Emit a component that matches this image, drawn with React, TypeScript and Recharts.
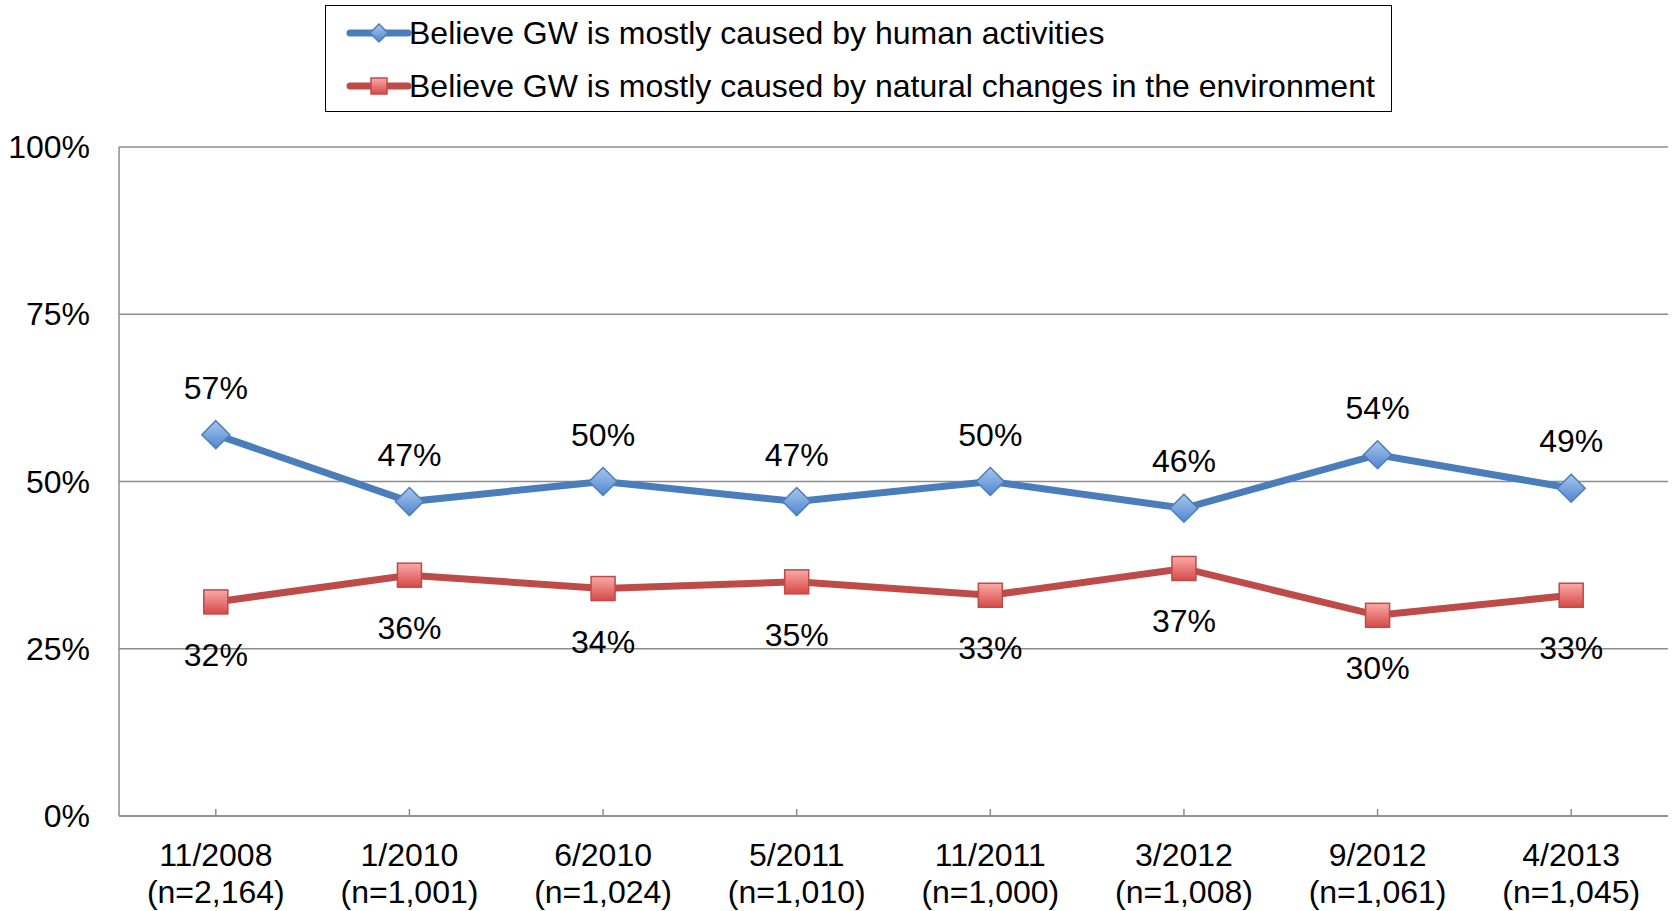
import { LineChart, Line, XAxis, YAxis, CartesianGrid } from 'recharts'

const categories = ['11/2008', '1/2010', '6/2010', '5/2011', '11/2011', '3/2012', '9/2012', '4/2013']
const sampleSizes = ['(n=2,164)', '(n=1,001)', '(n=1,024)', '(n=1,010)', '(n=1,000)', '(n=1,008)', '(n=1,061)', '(n=1,045)']
const humanValues = [57, 47, 50, 47, 50, 46, 54, 49]
const naturalValues = [32, 36, 34, 35, 33, 37, 30, 33]
const yTicks = [0, 25, 50, 75, 100]

const HUMAN = 'Believe GW is mostly caused by human activities'
const NATURAL = 'Believe GW is mostly caused by natural changes in the environment'

const FONT = '"Liberation Sans", Arial, sans-serif'
const FS = 32
const BLUE = '#4A7EBB'
const RED = '#BE4B48'
const GRID = '#8c8c8c'

const data = categories.map((c, i) => ({
  cat: c,
  human: humanValues[i],
  natural: naturalValues[i]
}))

const Diamond = ({ cx, cy, size = 14 }: any) => (
  <g>
    <defs>
      <linearGradient id="blueFill" x1="0" y1="0" x2="0" y2="1">
        <stop offset="0%" stopColor="#a9c6ee" />
        <stop offset="100%" stopColor="#4f86cf" />
      </linearGradient>
    </defs>
    <polygon
      points={`${cx},${cy - size} ${cx + size},${cy} ${cx},${cy + size} ${cx - size},${cy}`}
      fill="url(#blueFill)"
      stroke={BLUE}
      strokeWidth={1.5}
    />
  </g>
)

const Square = ({ cx, cy, size = 12 }: any) => (
  <g>
    <defs>
      <linearGradient id="redFill" x1="0" y1="0" x2="0" y2="1">
        <stop offset="0%" stopColor="#fbaaa8" />
        <stop offset="100%" stopColor="#d54a47" />
      </linearGradient>
    </defs>
    <rect
      x={cx - size}
      y={cy - size}
      width={size * 2}
      height={size * 2}
      fill="url(#redFill)"
      stroke={RED}
      strokeWidth={1.5}
    />
  </g>
)

const XTick = ({ x, y, payload, index }: any) => (
  <g>
    <line x1={x} y1={y} x2={x} y2={y - 7} stroke={GRID} strokeWidth={1.5} />
    <text x={x} y={y + 50} textAnchor="middle" fontSize={FS} fill="#000" fontFamily={FONT}>
      {payload.value}
    </text>
    <text x={x} y={y + 87} textAnchor="middle" fontSize={FS} fill="#000" fontFamily={FONT}>
      {sampleSizes[index]}
    </text>
  </g>
)

const YTick = ({ x, y, payload }: any) => (
  <text x={x} y={y + 11} textAnchor="end" fontSize={FS} fill="#000" fontFamily={FONT}>
    {payload.value}%
  </text>
)

const humanLabel = ({ x, y, value }: any) => (
  <text x={x} y={y - 36} textAnchor="middle" fontSize={FS} fill="#000" fontFamily={FONT}>
    {value}%
  </text>
)

const naturalLabel = ({ x, y, value }: any) => (
  <text x={x} y={y + 64} textAnchor="middle" fontSize={FS} fill="#000" fontFamily={FONT}>
    {value}%
  </text>
)

const LegendBox = () => (
  <div
    style={{
      position: 'absolute',
      left: 325,
      top: 5,
      width: 1067,
      height: 107,
      border: '1.5px solid #000',
      boxSizing: 'border-box',
      background: '#fff'
    }}
  >
    <svg width={1064} height={104} style={{ display: 'block' }}>
      <line x1={24} y1={27} x2={82} y2={27} stroke={BLUE} strokeWidth={7} strokeLinecap="round" />
      <Diamond cx={53} cy={27} size={9} />
      <text x={83} y={38} fontSize={FS} fontFamily={FONT} fill="#000">
        {HUMAN}
      </text>
      <line x1={24} y1={80} x2={82} y2={80} stroke={RED} strokeWidth={7} strokeLinecap="round" />
      <Square cx={53} cy={80} size={8} />
      <text x={83} y={91} fontSize={FS} fontFamily={FONT} fill="#000">
        {NATURAL}
      </text>
    </svg>
  </div>
)

export default function App() {
  return (
    <div style={{ position: 'absolute', left: 0, top: 0, width: 1672, height: 911, background: '#fff', fontFamily: FONT }}>
      <LineChart width={1672} height={911} data={data} margin={{ top: 147, right: 4, left: 0, bottom: 0 }}>
        <CartesianGrid vertical={false} stroke={GRID} strokeWidth={1.5} />
        <XAxis
          dataKey="cat"
          scale="band"
          height={95}
          tickSize={0}
          tickMargin={0}
          tickLine={false}
          axisLine={{ stroke: GRID, strokeWidth: 1.5 }}
          tick={<XTick />}
          interval={0}
        />
        <YAxis
          width={119}
          domain={[0, 100]}
          ticks={yTicks}
          tickSize={0}
          tickMargin={29}
          tickLine={false}
          axisLine={{ stroke: GRID, strokeWidth: 1.5 }}
          tick={<YTick />}
        />
        <Line
          name={HUMAN}
          dataKey="human"
          type="linear"
          stroke={BLUE}
          strokeWidth={7}
          dot={<Diamond />}
          activeDot={false}
          label={humanLabel}
          isAnimationActive={false}
        />
        <Line
          name={NATURAL}
          dataKey="natural"
          type="linear"
          stroke={RED}
          strokeWidth={7}
          dot={<Square />}
          activeDot={false}
          label={naturalLabel}
          isAnimationActive={false}
        />
      </LineChart>
      <LegendBox />
    </div>
  )
}
